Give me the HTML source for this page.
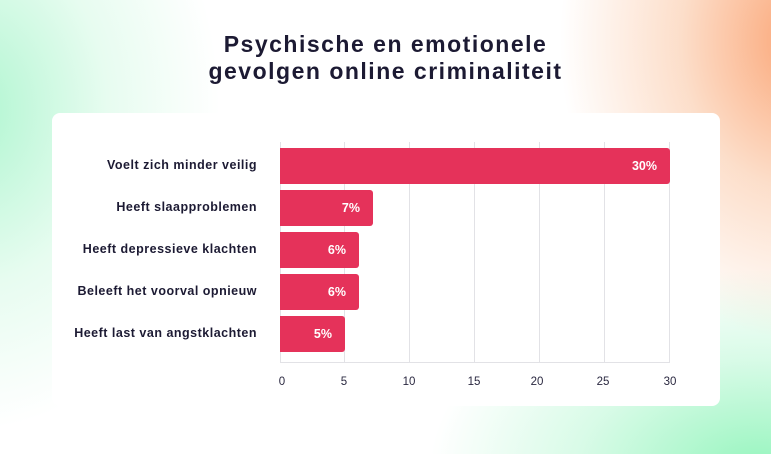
<!DOCTYPE html>
<html><head><style>
html,body{margin:0;padding:0}
body{width:771px;height:454px;position:relative;overflow:hidden;font-family:"Liberation Sans",sans-serif;
background:
radial-gradient(ellipse 240px 300px at 800px 40px, rgba(250,160,110,0.95), rgba(250,190,150,0.5) 50%, rgba(255,255,255,0) 100%),
radial-gradient(ellipse 330px 200px at 760px 470px, rgba(150,245,190,1), rgba(190,248,215,0.6) 55%, rgba(255,255,255,0) 100%),
radial-gradient(ellipse 250px 320px at -30px 110px, rgba(170,245,205,0.95), rgba(215,250,230,0.6) 55%, rgba(255,255,255,0) 100%),
#fff;}
.t{position:absolute;left:0;width:771px;text-align:center;font-weight:bold;font-size:23px;color:#1c1a33;letter-spacing:1.5px}
.card{position:absolute;left:52px;top:113px;width:668px;height:293px;background:#fff;border-radius:8px}
.lab{position:absolute;right:514px;font-weight:bold;font-size:12.5px;letter-spacing:0.5px;color:#1c1a33;white-space:nowrap}
.g{position:absolute;top:142px;height:221px;width:1px;background:#e2e2e6}
.bar{position:absolute;left:280px;height:36px;background:#e5325a;border-radius:0 3px 3px 0;color:#fff;font-weight:bold;font-size:12.5px;text-align:right;box-sizing:border-box;padding-right:13px;line-height:36px}
.tk{position:absolute;top:376px;font-size:11.5px;color:#2a2840;width:30px;margin-left:-15px;text-align:center}
</style></head><body>
<div class="t" style="top:31px">Psychische en emotionele</div>
<div class="t" style="top:58px">gevolgen online criminaliteit</div>
<div class="card"></div>
<div class="g" style="left:280px"></div>
<div class="g" style="left:344px"></div>
<div class="g" style="left:409px"></div>
<div class="g" style="left:474px"></div>
<div class="g" style="left:539px"></div>
<div class="g" style="left:604px"></div>
<div class="g" style="left:669px"></div>
<div style="position:absolute;left:280px;top:362px;width:390px;height:1px;background:#e2e2e6"></div>
<div class="bar" style="top:148px;width:390px">30%</div>
<div class="bar" style="top:190px;width:93px">7%</div>
<div class="bar" style="top:232px;width:79px">6%</div>
<div class="bar" style="top:274px;width:79px">6%</div>
<div class="bar" style="top:316px;width:65px">5%</div>
<div class="lab" style="top:158px">Voelt zich minder veilig</div>
<div class="lab" style="top:200px">Heeft slaapproblemen</div>
<div class="lab" style="top:242px">Heeft depressieve klachten</div>
<div class="lab" style="top:284px">Beleeft het voorval opnieuw</div>
<div class="lab" style="top:326px">Heeft last van angstklachten</div>
<div class="tk" style="left:282px">0</div>
<div class="tk" style="left:344px">5</div>
<div class="tk" style="left:409px">10</div>
<div class="tk" style="left:474px">15</div>
<div class="tk" style="left:537px">20</div>
<div class="tk" style="left:603px">25</div>
<div class="tk" style="left:670px">30</div>
</body></html>
